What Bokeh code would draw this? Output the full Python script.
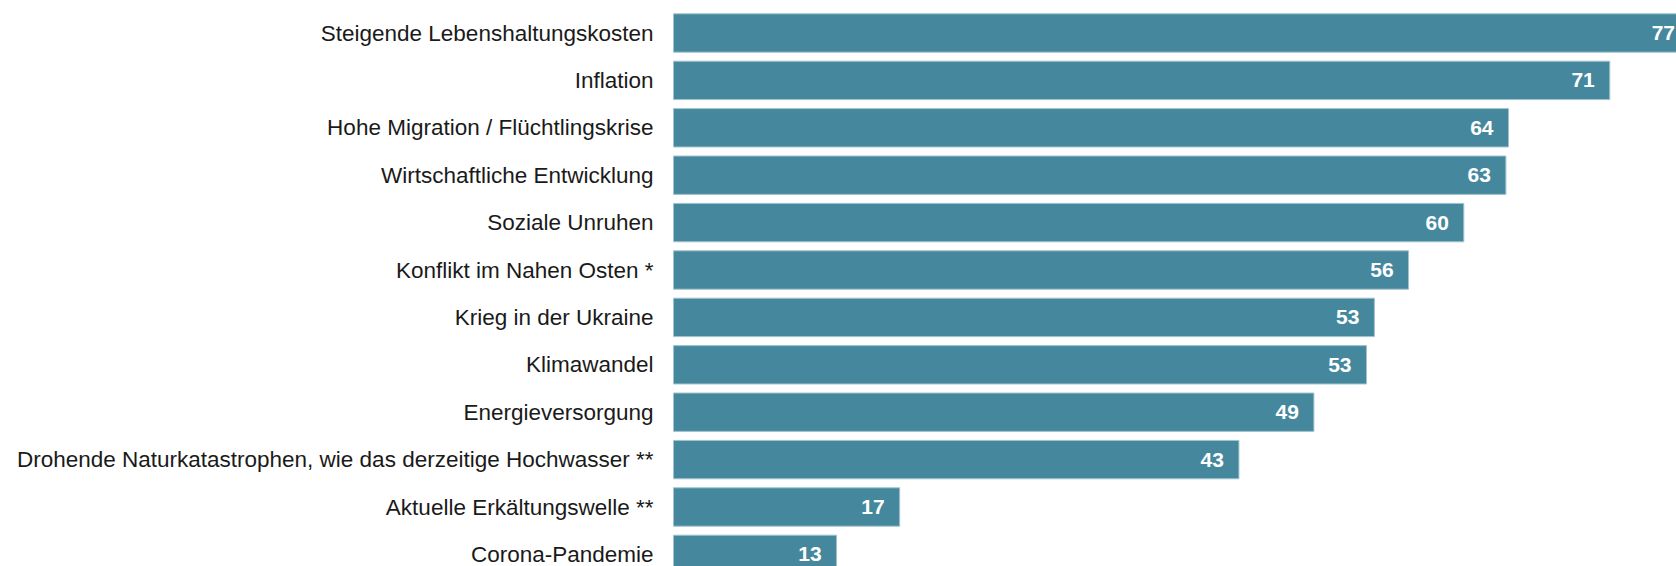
from bokeh.plotting import figure
from bokeh.models import ColumnDataSource, Range1d
from bokeh.core.properties import value
from bokeh.embed import file_html
from bokeh.resources import INLINE

categories = [
    "Steigende Lebenshaltungskosten",
    "Inflation",
    "Hohe Migration / Flüchtlingskrise",
    "Wirtschaftliche Entwicklung",
    "Soziale Unruhen",
    "Konflikt im Nahen Osten *",
    "Krieg in der Ukraine",
    "Klimawandel",
    "Energieversorgung",
    "Drohende Naturkatastrophen, wie das derzeitige Hochwasser **",
    "Aktuelle Erkältungswelle **",
    "Corona-Pandemie",
]
values = [77.3, 71.2, 63.5, 63.3, 60.1, 55.9, 53.3, 52.7, 48.7, 43.0, 17.2, 12.4]
value_labels = ["77", "71", "64", "63", "60", "56", "53", "53", "49", "43", "17", "13"]

W, H = 1676, 566
PX_PER_UNIT = 13.15
LEFT_PX = 673
ROW_PX = 47.4
FIRST_ROW_PX = 32.5

pos = list(range(len(categories)))
src = ColumnDataSource(dict(y=pos, v=values, cat=categories, lab=value_labels,
                            zero=[0] * len(pos)))

x_start = -LEFT_PX / PX_PER_UNIT
x_end = (W - LEFT_PX) / PX_PER_UNIT
y_top = -FIRST_ROW_PX / ROW_PX
y_bottom = y_top + H / ROW_PX

p = figure(width=W, height=H, output_backend="svg", toolbar_location=None,
           x_range=Range1d(x_start, x_end), y_range=Range1d(y_bottom, y_top),
           min_border=0, min_border_left=0, min_border_right=0,
           min_border_top=0, min_border_bottom=0)
p.axis.visible = False
p.grid.visible = False
p.outline_line_color = None
p.background_fill_color = "white"
p.border_fill_color = "white"

p.hbar(y="y", left=0, right="v", height=0.81, source=src,
       fill_color="#45889d", line_color="#a3c3ce", line_width=1)

p.text(x="zero", y="y", text="cat", source=src, x_offset=-20,
       text_align="right", text_baseline="middle",
       text_font=value("Liberation Sans"), text_font_size="22.5px",
       text_color="#1a1a1a")

p.text(x="v", y="y", text="lab", source=src, x_offset=-15,
       text_align="right", text_baseline="middle",
       text_font=value("Liberation Sans"), text_font_size="21px",
       text_font_style="bold", text_color="white")

open("out.html", "w").write(file_html(p, INLINE))
